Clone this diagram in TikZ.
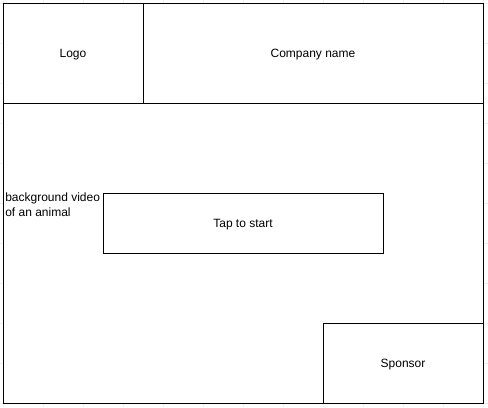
\documentclass[tikz,border=0pt]{standalone}
\usepackage{fontspec}
\setmainfont{Liberation Sans}
\usepackage{tikz}
\usetikzlibrary{calc}

\tikzset{
    panel/.style={draw, fill=white, line width=0.75pt, inner sep=0pt, outer sep=0pt, text depth=0pt, font=\fontsize{9pt}{10.5pt}\selectfont},
    gridline/.style={draw=black!7, line width=0.4pt}
}

\begin{document}
\begin{tikzpicture}[x=0.75pt, y=-0.75pt]
                    \useasboundingbox (0, 0) rectangle (488, 407);
                    % faint page grid
                    \foreach \gx in {3, 43, ..., 483} {
                        \draw[gridline] (\gx, 0) -- (\gx, 407);
                    }
                    \foreach \gy in {3, 43, ..., 403} {
                        \draw[gridline] (0, \gy) -- (488, \gy);
                    }
                    \node[panel, minimum width=105pt, minimum height=75pt] (logo) at (73, 53) {Logo};
                    \node[panel, minimum width=255pt, minimum height=75pt] (company) at (313, 53) {Company name};
                    \node[panel, minimum width=360pt, minimum height=225pt] (body) at (243, 253) {};
                    \node[panel, minimum width=210pt, minimum height=45pt] (tap) at (243, 223) {Tap to start};
                    \node[panel, minimum width=120pt, minimum height=60pt] (sponsor) at (403, 363) {Sponsor};
                    \node[anchor=north west, inner sep=0pt, align=left, font=\fontsize{9pt}{11pt}\selectfont] (video) at ($(body.north west) + (2, 89.5)$) {background video\\of an animal};
                \end{tikzpicture}
\end{document}
